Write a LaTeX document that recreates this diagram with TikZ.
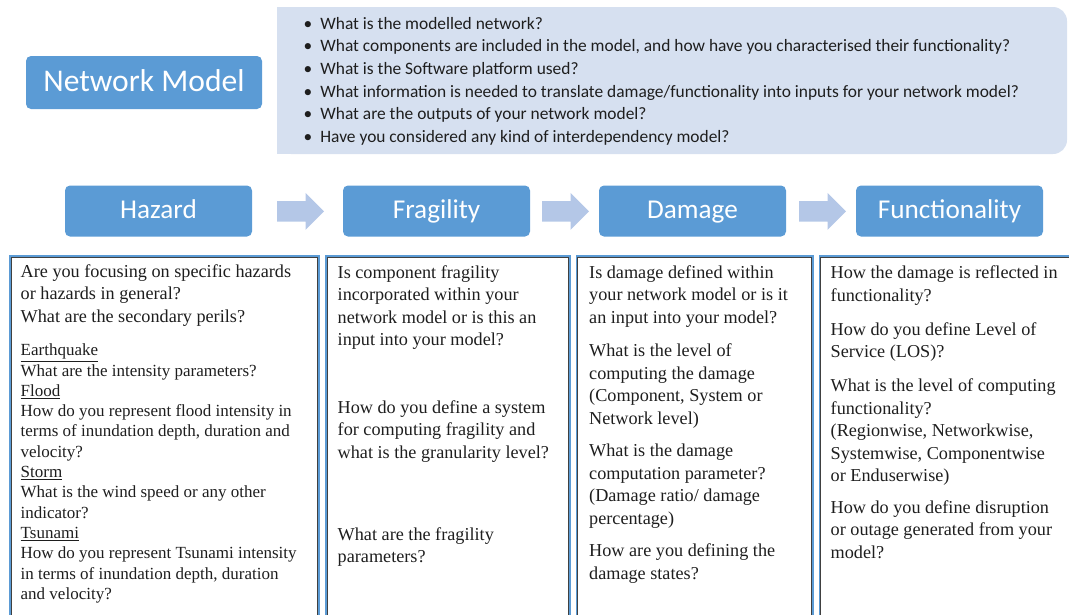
\documentclass[tikz,border=0pt]{standalone}
\usepackage{fontspec}
\setmainfont{Liberation Serif}
\newfontfamily\calib{Carlito}
\usetikzlibrary{calc}
\definecolor{hblue}{HTML}{5B9BD5}
\definecolor{qbox}{HTML}{D6E0F0}
\definecolor{arr}{HTML}{B4C7E7}
\definecolor{txt}{HTML}{1E1E1E}
\definecolor{frame}{HTML}{404040}
\newcommand\fl{\rule{0pt}{14pt}}
\newcommand\fls{\rule{0pt}{13pt}}
\newcommand\bul{\makebox[16.9pt][l]{•}}
\tikzset{
  head/.style={fill=hblue, rounded corners=5pt, text=white, inner sep=0pt,
    minimum width=187pt, minimum height=51pt, text height=21pt, text depth=6pt,
    font=\calib\fontsize{27.2}{32}\selectfont},
  big/.style={font=\fontsize{18.2}{22.5}\selectfont, align=left, anchor=north west, inner sep=0pt, text=txt},
  small/.style={font=\fontsize{17}{20.3}\selectfont, align=left, anchor=north west, inner sep=0pt, text=txt},
  colbox/.style={draw=hblue, line width=2pt, anchor=north west, inner sep=0pt, minimum height=400pt},
  inframe/.style={draw=frame, line width=0.6pt},
}
\newcommand\myarrow[1]{\fill[arr] (#1,201.2) -- ++(28.5,0) -- ++(0,-8.3) -- ++(18.5,18.5) -- ++(-18.5,18.5) -- ++(0,-8.3) -- ++(-28.5,0) -- cycle;}
\newcommand\inbox[1]{\draw[inframe] ($(#1.north west)+(2.2,2.2)$) rectangle ($(#1.south east)+(-2.2,-2.2)$);}
\begin{document}
\begin{tikzpicture}[x=1pt,y=-1pt]
\useasboundingbox (0,0) rectangle (1069,614);

% top question box
\fill[qbox, rounded corners=14pt] (277,7) rectangle (1067,154);
\fill[qbox] (277,7) rectangle (300,154);
\node[anchor=north west, inner sep=0pt, align=left, text=txt,
  font=\calib\fontsize{17.4}{22.6}\selectfont] (qs) at (303.3,16) {\rule{0pt}{13pt}\bul What is the modelled network?\\
\bul What components are included in the model, and how have you characterised their functionality?\\
\bul What is the Software platform used?\\
\bul What information is needed to translate damage/functionality into inputs for your network model?\\
\bul What are the outputs of your network model?\\
\bul Have you considered any kind of interdependency model?};

% network model
\node[head, minimum width=236pt, minimum height=53pt, text height=24.6pt, text depth=6.4pt,
  font=\calib\fontsize{31.6}{36}\selectfont] (nm) at (144,82.5) {Network Model};

% headings
\node[head] (haz) at (158.5,211) {Hazard};
\node[head] (fra) at (436.5,211) {Fragility};
\node[head] (dam) at (692.5,211) {Damage};
\node[head] (fun) at (949.5,211) {Functionality};
\myarrow{277}
\myarrow{542}
\myarrow{799}

% columns
\node[colbox, minimum width=308.5pt] (hazcol) at (9,255) {};
\node[colbox, minimum width=243.5pt] (fracol) at (325,255) {};
\node[colbox, minimum width=236pt] (damcol) at (575.5,255) {};
\node[colbox, minimum width=262pt] (funcol) at (818.5,255) {};
\inbox{hazcol}
\inbox{fracol}
\inbox{damcol}
\inbox{funcol}

% Hazard text
\node[big] (hz1) at (20.5,263) {\fl Are you focusing on specific hazards\\or hazards in general?\\What are the secondary perils?};
\node[small] (hz2) at (20.5,342.5) {\fls\underline{Earthquake}\\What are the intensity parameters?\\\underline{Flood}\\How do you represent flood intensity in\\terms of inundation depth, duration and\\velocity?\\\underline{Storm}\\What is the wind speed or any other\\indicator?\\\underline{Tsunami}\\How do you represent Tsunami intensity\\in terms of inundation depth, duration\\and velocity?};

% Fragility text
\node[big] (fr1) at (337.5,264) {\fl Is component fragility\\incorporated within your\\network model or is this an\\input into your model?};
\node[big] (fr2) at (337.5,399) {\fl How do you define a system\\for computing fragility and\\what is the granularity level?};
\node[big] (fr3) at (337.5,526) {\fl What are the fragility\\parameters?};

% Damage text
\node[big] (dm1) at (589,264) {\fl Is damage defined within\\your network model or is it\\an input into your model?};
\node[big] (dm2) at (589,342.7) {\fl What is the level of\\computing the damage\\(Component, System or\\Network level)};
\node[big] (dm3) at (589,442.7) {\fl What is the damage\\computation parameter?\\(Damage ratio/ damage\\percentage)};
\node[big] (dm4) at (589,542.7) {\fl How are you defining the\\damage states?};

% Functionality text
\node[big] (fn1) at (830.5,264.5) {\fl How the damage is reflected in\\functionality?};
\node[big] (fn2) at (830.5,321) {\fl How do you define Level of\\Service (LOS)?};
\node[big] (fn3) at (830.5,377.7) {\fl What is the level of computing\\functionality?\\(Regionwise, Networkwise,\\Systemwise, Componentwise\\or Enduserwise)};
\node[big] (fn4) at (830.5,499) {\fl How do you define disruption\\or outage generated from your\\model?};
\end{tikzpicture}
\end{document}
